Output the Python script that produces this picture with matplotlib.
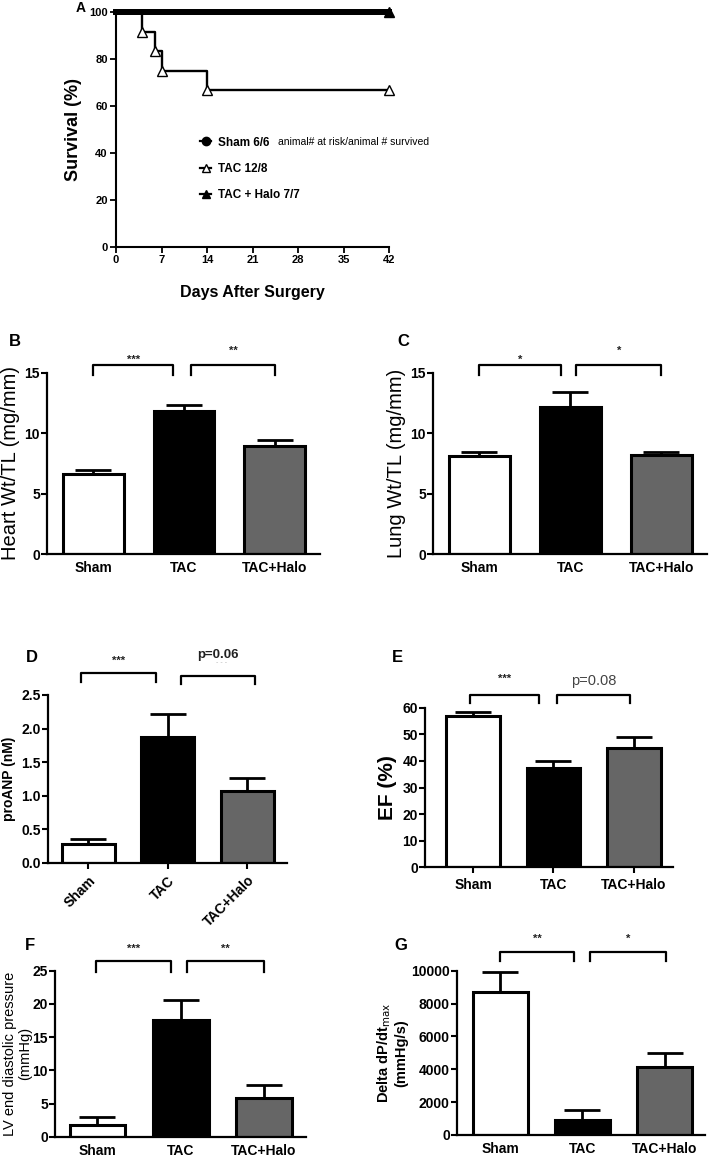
#!/usr/bin/env python3

import numpy as np
import matplotlib
matplotlib.use("Agg")
import matplotlib.pyplot as plt

plt.rcParams['font.family'] = ['Liberation Sans', 'DejaVu Sans']

# survival (Kaplan-Meier, panel A)
days_tac = [0, 4, 6, 7, 14, 42]
surv_tac = [100, 91.7, 83.3, 75.0, 66.7, 66.7]
days_flat = [0, 42]
surv_sham = [100, 100]
surv_halo = [100, 100]

groups = ['Sham', 'TAC', 'TAC+Halo']
colors = ['white', 'black', '#666666']

heart_mean = [6.63, 11.85, 8.95]
heart_err = [0.3, 0.5, 0.48]
lung_mean = [8.14, 12.2, 8.17]
lung_err = [0.33, 1.2, 0.28]
anp_mean = [0.29, 1.88, 1.07]
anp_err = [0.06, 0.34, 0.19]
ef_mean = [56.9, 37.4, 44.7]
ef_err = [1.4, 2.4, 4.4]
lvedp_mean = [1.72, 17.6, 5.87]
lvedp_err = [1.2, 3.0, 1.9]
dpdt_mean = [8685, 913, 4120]
dpdt_err = [1215, 607, 850]

fig = plt.figure(figsize=(7.09, 11.56), dpi=100)


def bar_panel(rect, means, errs, ylim, yticks, ylabel, ylabel_size, letter,
              letter_xy, brackets, xlim=(-0.51, 2.5), rotate=False,
              xticks_marks=False, ylabel_weight='bold', ylabel_pad=4):
    ax = fig.add_axes(rect)
    x = np.arange(len(groups))
    ax.bar(x, means, width=0.67, color=colors, edgecolor='black',
           linewidth=2.2, zorder=2)
    ax.errorbar(x, means, yerr=[np.zeros(3), errs], fmt='none',
                ecolor='black', elinewidth=2, capsize=13, capthick=2,
                zorder=1)
    ax.set_xlim(*xlim)
    ax.set_ylim(*ylim)
    ax.set_yticks(yticks)
    ax.set_xticks(x)
    for s in ['top', 'right']:
        ax.spines[s].set_visible(False)
    for s in ['left', 'bottom']:
        ax.spines[s].set_linewidth(1.6)
    ax.tick_params(axis='y', width=1.5, length=4, labelsize=10, pad=1)
    if xticks_marks:
        ax.tick_params(axis='x', width=1.5, length=4, labelsize=10)
    else:
        ax.tick_params(axis='x', length=0, labelsize=10, pad=5)
    for lab in ax.get_yticklabels():
        lab.set_fontweight('bold')
    if rotate:
        ax.set_xticklabels(groups, rotation=45, ha='right',
                           rotation_mode='anchor', fontweight='bold')
    else:
        ax.set_xticklabels(groups, fontweight='bold')
    ax.set_ylabel(ylabel, fontsize=ylabel_size, fontweight=ylabel_weight,
                  labelpad=ylabel_pad, linespacing=1.1)
    # significance brackets
    for (x0, x1, ytop, ybot, txt, tstyle) in brackets:
        ax.plot([x0, x0, x1, x1], [ybot, ytop, ytop, ybot], color='black',
                lw=1.6, clip_on=False)
        ax.text((x0 + x1) / 2, ytop + tstyle.get('dy', 0), txt,
                ha='center', va='bottom',
                fontsize=tstyle.get('size', 8),
                fontweight=tstyle.get('weight', 'bold'),
                color=tstyle.get('color', '#222222'))
    fig.text(letter_xy[0] / 709, 1 - letter_xy[1] / 1156, letter,
             fontsize=12, fontweight='bold', ha='left', va='center')
    return ax


# ---- Panel A ----
axA = fig.add_axes([116 / 709, 1 - 247 / 1156, 273 / 709, 235 / 1156])
axA.plot(days_flat, surv_sham, color='black', lw=4.2, clip_on=False,
         zorder=3)
axA.step(days_tac, surv_tac, where='post', color='black', lw=1.7,
         clip_on=False, zorder=2)
axA.plot(days_tac[1:], surv_tac[1:], ls='none', marker='^', ms=6.5,
         mfc='white', mec='black', mew=1, clip_on=False, zorder=4)
axA.plot(days_flat, surv_halo, color='black', lw=4.2, marker='^', ms=7,
         markevery=[1], clip_on=False, zorder=3)
axA.set_xlim(0, 42)
axA.set_ylim(0, 100)
axA.set_xticks([0, 7, 14, 21, 28, 35, 42])
axA.set_yticks([0, 20, 40, 60, 80, 100])
for s in ['top', 'right']:
    axA.spines[s].set_visible(False)
for s in ['left', 'bottom']:
    axA.spines[s].set_linewidth(1.5)
axA.tick_params(width=1.3, length=4, labelsize=8, pad=2)
for lab in axA.get_xticklabels() + axA.get_yticklabels():
    lab.set_fontweight('bold')
axA.set_xlabel('Days After Surgery', fontsize=11.5, fontweight='bold',
               labelpad=14)
axA.set_ylabel('Survival (%)', fontsize=13, fontweight='bold', labelpad=5)
fig.text(81 / 709, 1 - 8 / 1156, 'A', fontsize=10, fontweight='bold',
         ha='center', va='center')

# legend drawn as in Prism: marker with short line
leg_handles = [
    plt.Line2D([], [], color='black', lw=1.6, marker='o', ms=6),
    plt.Line2D([], [], color='black', lw=1.6, marker='^', ms=6,
               mfc='white'),
    plt.Line2D([], [], color='black', lw=1.6, marker='^', ms=6),
]
leg = axA.legend(leg_handles, ['Sham 6/6', 'TAC 12/8', 'TAC + Halo 7/7'],
                 loc='upper left', bbox_to_anchor=(0.27, 0.515),
                 frameon=False, handlelength=0.9, handletextpad=0.6,
                 labelspacing=1.2, prop={'weight': 'bold', 'size': 8.5})
axA.text(24.9, 44.8, 'animal# at risk/animal # survived', fontsize=7.5,
         ha='left', va='center')

# ---- Panel B ----
bar_panel([47 / 709, 1 - 554 / 1156, 273 / 709, 181 / 1156],
          heart_mean, heart_err, (0, 15), [0, 5, 10, 15],
          'Heart Wt/TL (mg/mm)', 14.5, 'B', (9, 342),
          [(0, 0.88, 15.66, 14.8, '***', {}),
           (1.08, 2.0, 15.66, 14.8, '**', {'dy': 0.8})],
          ylabel_weight='normal', ylabel_pad=3)

# ---- Panel C ----
bar_panel([433 / 709, 1 - 554 / 1156, 274 / 709, 181 / 1156],
          lung_mean, lung_err, (0, 15), [0, 5, 10, 15],
          'Lung Wt/TL (mg/mm)', 14.5, 'C', (397, 342),
          [(0, 0.9, 15.66, 14.8, '*', {}),
           (1.06, 2.0, 15.66, 14.8, '*', {'dy': 0.8})],
          ylabel_weight='normal', ylabel_pad=3)

# ---- Panel D ----
bar_panel([48 / 709, 1 - 863 / 1156, 239 / 709, 168 / 1156],
          anp_mean, anp_err, (0, 2.5), [0, 0.5, 1.0, 1.5, 2.0, 2.5],
          'proANP (nM)', 10, 'D', (26, 657),
          [(-0.1, 0.85, 2.82, 2.69, '***', {'dy': 0.12}),
           (1.16, 2.1, 2.78, 2.66, 'p=0.06', {'dy': 0.23, 'size': 9.5})],
          rotate=True, xticks_marks=True, ylabel_weight='bold')
# faint dashes under p value
fig.text(222 / 709, 1 - 663 / 1156, '- - -', fontsize=5, color='#bbbbbb',
         ha='center', va='center')

# ---- Panel E ----
bar_panel([425 / 709, 1 - 867.3 / 1156, 248 / 709, 159.6 / 1156],
          ef_mean, ef_err, (0, 60), [0, 10, 20, 30, 40, 50, 60],
          'EF (%)', 15, 'E', (392, 657),
          [(-0.04, 0.82, 64.9, 61.7, '***', {'dy': 4}),
           (1.05, 1.96, 64.9, 61.7, 'p=0.08',
            {'dy': 2.5, 'size': 10.5, 'weight': 'normal', 'color': '#444444'})],
          xlim=(-0.6, 2.49), xticks_marks=True)

# ---- Panel F ----
bar_panel([55 / 709, 1 - 1136.7 / 1156, 250.7 / 709, 166 / 1156],
          lvedp_mean, lvedp_err, (0, 25), [0, 5, 10, 15, 20, 25],
          'LV end diastolic pressure\n(mmHg)', 10.5, 'F', (25, 946),
          [(-0.02, 0.88, 26.4, 24.85, '***', {'dy': 1.2}),
           (1.07, 2.0, 26.4, 24.85, '**', {'dy': 1.2})],
          ylabel_weight='normal', ylabel_pad=0)

# ---- Panel G ----
bar_panel([456.7 / 709, 1 - 1135 / 1156, 248.3 / 709, 164.3 / 1156],
          dpdt_mean, dpdt_err, (0, 10000), [0, 2000, 4000, 6000, 8000, 10000],
          'Delta dP/dt$_{\\mathrm{max}}$\n(mmHg/s)', 10.5, 'G', (394, 946),
          [(0, 0.9, 11157, 10590, '**', {'dy': 500}),
           (1.09, 2.02, 11157, 10590, '*', {'dy': 500})],
          xlim=(-0.53, 2.49), ylabel_weight='bold', ylabel_pad=2)

fig.savefig('out.png', dpi=100)
